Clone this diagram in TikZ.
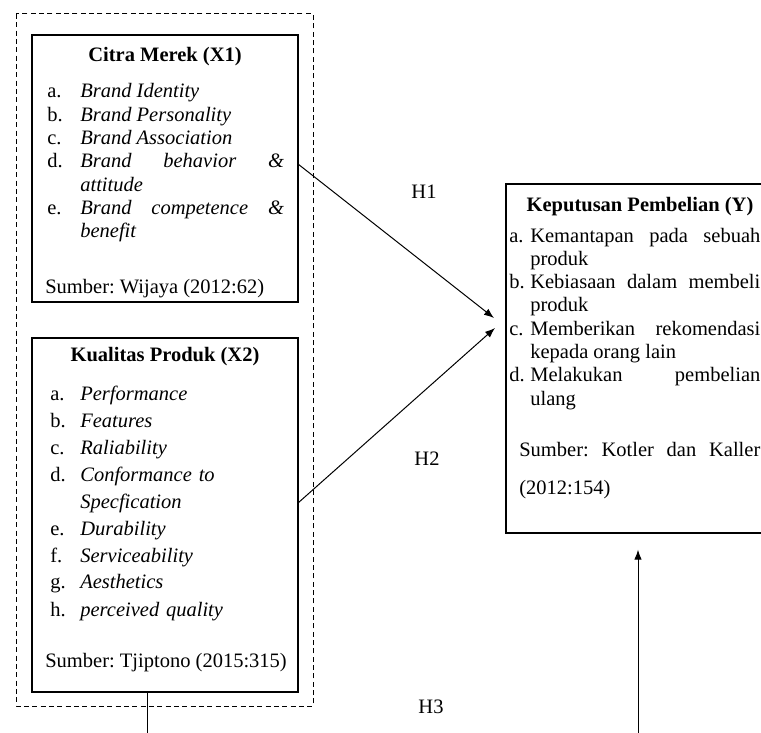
\documentclass[tikz,border=0pt]{standalone}
\usepackage{fontspec}
\setmainfont{Liberation Serif}
\usetikzlibrary{arrows.meta}

% item con sangria francesa
\newcommand{\butir}[3][20pt]{{\hangindent=#1\hangafter=1\noindent\makebox[#1][l]{#2}#3\par}}

\begin{document}
\frenchspacing
\begin{tikzpicture}[x=0.6pt,y=-0.6pt,
    kotak/.style={draw,line width=0.8pt,inner sep=0pt,outer sep=0pt},
    judul/.style={anchor=base,inner sep=0pt,font=\fontsize{12.3}{14}\selectfont\bfseries},
    isi/.style={anchor=base west,inner sep=0pt,align=justify,font=\fontsize{12.3}{14}\selectfont},
    label/.style={inner sep=0pt,font=\fontsize{12.3}{14}\selectfont},
    panah/.style={-{Latex[length=6pt,width=4.5pt]},line width=0.6pt},
    garis/.style={line width=0.6pt}]
        \useasboundingbox (0,0) rectangle (761,733);
        \clip (0,0) rectangle (761,733);

        % Grupo punteado
        \draw[dashed,line width=0.6pt,dash pattern=on 3pt off 2pt] (16,14) rectangle (313,706);

        % Citra Merek (X1)
        \node[kotak,minimum width=159.6pt,minimum height=160.2pt] (x1) at (165,168.5) {};
        \node[judul] (x1judul) at (165,62) {Citra Merek (X1)};
        \node[isi,text width=142pt] (x1isi) at (47,98) {%
            \butir[19.8pt]{a.}{\textit{Brand Identity}}
            \butir[19.8pt]{b.}{\textit{Brand Personality}}
            \butir[19.8pt]{c.}{\textit{Brand Association}}
            \butir[19.8pt]{d.}{\textit{Brand behavior \&\linebreak attitude}}
            \butir[19.8pt]{e.}{\textit{Brand competence \&\linebreak benefit}}};
        \node[isi] (x1sumber) at (45,293) {Sumber: Wijaya (2012:62)};

        % Kualitas Produk (X2)
        \node[kotak,minimum width=159.6pt,minimum height=212.4pt] (x2) at (165,515) {};
        \node[judul] (x2judul) at (165,361) {Kualitas Produk (X2)};
        \node[isi,align=left,text width=142pt,font=\fontsize{12.3}{16.2}\selectfont] (x2isi) at (50,400) {%
            \butir[18pt]{a.}{\textit{Performance}}
            \butir[18pt]{b.}{\textit{Features}}
            \butir[18pt]{c.}{\textit{Raliability}}
            \butir[18pt]{d.}{\textit{Conformance to\newline Specfication}}
            \butir[18pt]{e.}{\textit{Durability}}
            \butir[18pt]{f.}{\textit{Serviceability}}
            \butir[18pt]{g.}{\textit{Aesthetics}}
            \butir[18pt]{h.}{\textit{perceived quality}}};
        \node[isi] (x2sumber) at (45,667) {Sumber: Tjiptono (2015:315)};

        % Keputusan Pembelian (Y)
        \node[kotak,minimum width=158.4pt,minimum height=209.4pt] (y) at (638,358.5) {};
        \node[judul] (yjudul) at (640,211) {Keputusan Pembelian (Y)};
        \node[isi,text width=150.6pt] (yisi) at (509,242) {%
            \butir[12.6pt]{a.}{Kemantapan pada sebuah\linebreak produk}
            \butir[12.6pt]{b.}{Kebiasaan dalam membeli\linebreak produk}
            \butir[12.6pt]{c.}{Memberikan rekomendasi\linebreak kepada orang lain}
            \butir[12.6pt]{d.}{Melakukan pembelian\linebreak ulang}};
        \node[isi,text width=144.6pt,font=\fontsize{12.3}{22.8}\selectfont] (ysumber) at (519,456) {Sumber: Kotler dan Kaller\linebreak (2012:154)};

        % Hipotesis
        \coordinate (tip1) at (494,318);
        \coordinate (tip2) at (495,328);
        \coordinate (h3a) at (147,733);
        \coordinate (h3b) at (638,733);
        \draw[panah] ([yshift=2.7pt]x1.east) -- (tip1);
        \draw[panah] ([yshift=7.2pt]x2.east) -- (tip2);
        \draw[garis] (h3a |- x2.south) -- (h3a);
        \draw[panah] (h3b) -- ([yshift=-10pt]h3b |- y.south);
        \node[label] (lh1) at (424,192) {H1};
        \node[label] (lh2) at (427,459) {H2};
        \node[label] (lh3) at (431,707) {H3};
    \end{tikzpicture}
\end{document}
